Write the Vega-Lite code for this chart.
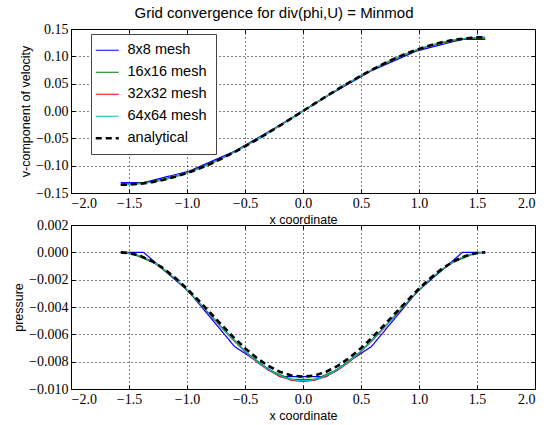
{
  "$schema": "https://vega.github.io/schema/vega-lite/v6.json",
  "padding": {"left": 12, "top": 5, "right": 5, "bottom": 5},
  "background": "white",
  "title": {"text": "Grid convergence for div(phi,U) = Minmod", "font": "Liberation Sans", "fontSize": 15, "fontWeight": "normal", "color": "black", "anchor": "middle", "offset": 1},
  "data": {"values": [
    {"s":"8x8 mesh","x":-1.5708,"v":-0.131,"p":0},
    {"s":"8x8 mesh","x":-1.3744,"v":-0.131,"p":0},
    {"s":"8x8 mesh","x":-0.9817,"v":-0.110,"p":-0.0029},
    {"s":"8x8 mesh","x":-0.5890,"v":-0.0735,"p":-0.0069},
    {"s":"8x8 mesh","x":-0.1963,"v":-0.0255,"p":-0.0091},
    {"s":"8x8 mesh","x":0.1963,"v":0.0255,"p":-0.0091},
    {"s":"8x8 mesh","x":0.5890,"v":0.0735,"p":-0.0069},
    {"s":"8x8 mesh","x":0.9817,"v":0.110,"p":-0.0029},
    {"s":"8x8 mesh","x":1.3744,"v":0.131,"p":0},
    {"s":"8x8 mesh","x":1.5708,"v":0.131,"p":0},

    {"s":"16x16 mesh","x":-1.5708,"v":-0.1334,"p":0},
    {"s":"16x16 mesh","x":-1.4726,"v":-0.1334,"p":-0.0001},
    {"s":"16x16 mesh","x":-1.2763,"v":-0.1282,"p":-0.0008},
    {"s":"16x16 mesh","x":-1.0799,"v":-0.1182,"p":-0.0021},
    {"s":"16x16 mesh","x":-0.8836,"v":-0.1036,"p":-0.0038},
    {"s":"16x16 mesh","x":-0.6872,"v":-0.0850,"p":-0.0056},
    {"s":"16x16 mesh","x":-0.4909,"v":-0.0632,"p":-0.0073},
    {"s":"16x16 mesh","x":-0.2945,"v":-0.0389,"p":-0.0086},
    {"s":"16x16 mesh","x":-0.0982,"v":-0.0131,"p":-0.0093},
    {"s":"16x16 mesh","x":0.0982,"v":0.0131,"p":-0.0093},
    {"s":"16x16 mesh","x":0.2945,"v":0.0389,"p":-0.0086},
    {"s":"16x16 mesh","x":0.4909,"v":0.0632,"p":-0.0073},
    {"s":"16x16 mesh","x":0.6872,"v":0.0850,"p":-0.0056},
    {"s":"16x16 mesh","x":0.8836,"v":0.1036,"p":-0.0038},
    {"s":"16x16 mesh","x":1.0799,"v":0.1182,"p":-0.0021},
    {"s":"16x16 mesh","x":1.2763,"v":0.1282,"p":-0.0008},
    {"s":"16x16 mesh","x":1.4726,"v":0.1334,"p":-0.0001},
    {"s":"16x16 mesh","x":1.5708,"v":0.1334,"p":0},

    {"s":"32x32 mesh","x":-1.5708,"v":-0.1345,"p":0},
    {"s":"32x32 mesh","x":-1.5,"v":-0.1342,"p":-0.00005},
    {"s":"32x32 mesh","x":-1.4,"v":-0.1325,"p":-0.00027},
    {"s":"32x32 mesh","x":-1.3,"v":-0.1296,"p":-0.00068},
    {"s":"32x32 mesh","x":-1.2,"v":-0.1254,"p":-0.00124},
    {"s":"32x32 mesh","x":-1.1,"v":-0.1199,"p":-0.00194},
    {"s":"32x32 mesh","x":-1.0,"v":-0.1132,"p":-0.00276},
    {"s":"32x32 mesh","x":-0.9,"v":-0.1054,"p":-0.00365},
    {"s":"32x32 mesh","x":-0.8,"v":-0.0965,"p":-0.00459},
    {"s":"32x32 mesh","x":-0.7,"v":-0.0867,"p":-0.00553},
    {"s":"32x32 mesh","x":-0.6,"v":-0.0759,"p":-0.00644},
    {"s":"32x32 mesh","x":-0.5,"v":-0.0645,"p":-0.00728},
    {"s":"32x32 mesh","x":-0.4,"v":-0.0524,"p":-0.00802},
    {"s":"32x32 mesh","x":-0.3,"v":-0.0398,"p":-0.00862},
    {"s":"32x32 mesh","x":-0.2,"v":-0.0267,"p":-0.00908},
    {"s":"32x32 mesh","x":-0.1,"v":-0.0134,"p":-0.00936},
    {"s":"32x32 mesh","x":0.0,"v":0.0,"p":-0.00945},
    {"s":"32x32 mesh","x":0.1,"v":0.0134,"p":-0.00936},
    {"s":"32x32 mesh","x":0.2,"v":0.0267,"p":-0.00908},
    {"s":"32x32 mesh","x":0.3,"v":0.0398,"p":-0.00862},
    {"s":"32x32 mesh","x":0.4,"v":0.0524,"p":-0.00802},
    {"s":"32x32 mesh","x":0.5,"v":0.0645,"p":-0.00728},
    {"s":"32x32 mesh","x":0.6,"v":0.0759,"p":-0.00644},
    {"s":"32x32 mesh","x":0.7,"v":0.0867,"p":-0.00553},
    {"s":"32x32 mesh","x":0.8,"v":0.0965,"p":-0.00459},
    {"s":"32x32 mesh","x":0.9,"v":0.1054,"p":-0.00365},
    {"s":"32x32 mesh","x":1.0,"v":0.1132,"p":-0.00276},
    {"s":"32x32 mesh","x":1.1,"v":0.1199,"p":-0.00194},
    {"s":"32x32 mesh","x":1.2,"v":0.1254,"p":-0.00124},
    {"s":"32x32 mesh","x":1.3,"v":0.1296,"p":-0.00068},
    {"s":"32x32 mesh","x":1.4,"v":0.1325,"p":-0.00027},
    {"s":"32x32 mesh","x":1.5,"v":0.1342,"p":-0.00005},
    {"s":"32x32 mesh","x":1.5708,"v":0.1345,"p":0},

    {"s":"64x64 mesh","x":-1.5708,"v":-0.135,"p":0},
    {"s":"64x64 mesh","x":-1.55,"v":-0.1350,"p":0},
    {"s":"64x64 mesh","x":-1.45,"v":-0.1340,"p":-0.00014},
    {"s":"64x64 mesh","x":-1.35,"v":-0.1317,"p":-0.00045},
    {"s":"64x64 mesh","x":-1.25,"v":-0.1281,"p":-0.00093},
    {"s":"64x64 mesh","x":-1.15,"v":-0.1232,"p":-0.00157},
    {"s":"64x64 mesh","x":-1.05,"v":-0.1171,"p":-0.00233},
    {"s":"64x64 mesh","x":-0.95,"v":-0.1098,"p":-0.00318},
    {"s":"64x64 mesh","x":-0.85,"v":-0.1014,"p":-0.00409},
    {"s":"64x64 mesh","x":-0.75,"v":-0.0920,"p":-0.00503},
    {"s":"64x64 mesh","x":-0.65,"v":-0.0817,"p":-0.00596},
    {"s":"64x64 mesh","x":-0.55,"v":-0.0706,"p":-0.00683},
    {"s":"64x64 mesh","x":-0.45,"v":-0.0587,"p":-0.00762},
    {"s":"64x64 mesh","x":-0.35,"v":-0.0463,"p":-0.00829},
    {"s":"64x64 mesh","x":-0.25,"v":-0.0334,"p":-0.00882},
    {"s":"64x64 mesh","x":-0.15,"v":-0.0202,"p":-0.00919},
    {"s":"64x64 mesh","x":-0.05,"v":-0.0068,"p":-0.00938},
    {"s":"64x64 mesh","x":0.05,"v":0.0068,"p":-0.00938},
    {"s":"64x64 mesh","x":0.15,"v":0.0202,"p":-0.00919},
    {"s":"64x64 mesh","x":0.25,"v":0.0334,"p":-0.00882},
    {"s":"64x64 mesh","x":0.35,"v":0.0463,"p":-0.00829},
    {"s":"64x64 mesh","x":0.45,"v":0.0587,"p":-0.00762},
    {"s":"64x64 mesh","x":0.55,"v":0.0706,"p":-0.00683},
    {"s":"64x64 mesh","x":0.65,"v":0.0817,"p":-0.00596},
    {"s":"64x64 mesh","x":0.75,"v":0.0920,"p":-0.00503},
    {"s":"64x64 mesh","x":0.85,"v":0.1014,"p":-0.00409},
    {"s":"64x64 mesh","x":0.95,"v":0.1098,"p":-0.00318},
    {"s":"64x64 mesh","x":1.05,"v":0.1171,"p":-0.00233},
    {"s":"64x64 mesh","x":1.15,"v":0.1232,"p":-0.00157},
    {"s":"64x64 mesh","x":1.25,"v":0.1281,"p":-0.00093},
    {"s":"64x64 mesh","x":1.35,"v":0.1317,"p":-0.00045},
    {"s":"64x64 mesh","x":1.45,"v":0.1340,"p":-0.00014},
    {"s":"64x64 mesh","x":1.55,"v":0.1350,"p":0},
    {"s":"64x64 mesh","x":1.5708,"v":0.135,"p":0},

    {"s":"analytical","x":-1.5708,"v":-0.135,"p":0},
    {"s":"analytical","x":-1.5,"v":-0.1347,"p":-0.00005},
    {"s":"analytical","x":-1.4,"v":-0.1330,"p":-0.00026},
    {"s":"analytical","x":-1.3,"v":-0.1301,"p":-0.00065},
    {"s":"analytical","x":-1.2,"v":-0.1258,"p":-0.00119},
    {"s":"analytical","x":-1.1,"v":-0.1203,"p":-0.00187},
    {"s":"analytical","x":-1.0,"v":-0.1136,"p":-0.00266},
    {"s":"analytical","x":-0.9,"v":-0.1058,"p":-0.00352},
    {"s":"analytical","x":-0.8,"v":-0.0969,"p":-0.00442},
    {"s":"analytical","x":-0.7,"v":-0.0870,"p":-0.00532},
    {"s":"analytical","x":-0.6,"v":-0.0762,"p":-0.00620},
    {"s":"analytical","x":-0.5,"v":-0.0647,"p":-0.00701},
    {"s":"analytical","x":-0.4,"v":-0.0526,"p":-0.00772},
    {"s":"analytical","x":-0.3,"v":-0.0399,"p":-0.00831},
    {"s":"analytical","x":-0.2,"v":-0.0268,"p":-0.00874},
    {"s":"analytical","x":-0.1,"v":-0.0135,"p":-0.00901},
    {"s":"analytical","x":0.0,"v":0.0,"p":-0.0091},
    {"s":"analytical","x":0.1,"v":0.0135,"p":-0.00901},
    {"s":"analytical","x":0.2,"v":0.0268,"p":-0.00874},
    {"s":"analytical","x":0.3,"v":0.0399,"p":-0.00831},
    {"s":"analytical","x":0.4,"v":0.0526,"p":-0.00772},
    {"s":"analytical","x":0.5,"v":0.0647,"p":-0.00701},
    {"s":"analytical","x":0.6,"v":0.0762,"p":-0.00620},
    {"s":"analytical","x":0.7,"v":0.0870,"p":-0.00532},
    {"s":"analytical","x":0.8,"v":0.0969,"p":-0.00442},
    {"s":"analytical","x":0.9,"v":0.1058,"p":-0.00352},
    {"s":"analytical","x":1.0,"v":0.1136,"p":-0.00266},
    {"s":"analytical","x":1.1,"v":0.1203,"p":-0.00187},
    {"s":"analytical","x":1.2,"v":0.1258,"p":-0.00119},
    {"s":"analytical","x":1.3,"v":0.1301,"p":-0.00065},
    {"s":"analytical","x":1.4,"v":0.1330,"p":-0.00026},
    {"s":"analytical","x":1.5,"v":0.1347,"p":-0.00005},
    {"s":"analytical","x":1.5708,"v":0.135,"p":0}
  ]},
  "bounds": "flush",
  "spacing": 32,
  "vconcat": [
    {
      "width": 464, "height": 164,
      "layer": [
        {
          "mark": {"type": "line", "clip": true},
          "encoding": {
            "x": {"field": "x", "type": "quantitative", "scale": {"domain": [-2, 2], "nice": false, "zero": false},
                  "axis": {"title": "x coordinate", "format": ".1f", "values": [-2,-1.5,-1,-0.5,0,0.5,1,1.5,2]}},
            "y": {"field": "v", "type": "quantitative", "scale": {"domain": [-0.15, 0.15], "nice": false},
                  "axis": {"title": "v-component of velocity", "format": ".2f", "values": [-0.15,-0.1,-0.05,0,0.05,0.1,0.15]}},
            "color": {"field": "s", "type": "nominal", "title": null,
                      "scale": {"domain": ["8x8 mesh","16x16 mesh","32x32 mesh","64x64 mesh","analytical"], "range": ["#0000ff","#008000","#ff0000","#00bfbf","#000000"]},
                      "legend": {"encode": {
                        "symbols": {"update": {"strokeWidth": {"signal": "datum.value === 'analytical' ? 2.6 : 1.2"}}}}}},
            "strokeDash": {"field": "s", "type": "nominal", "title": null,
                      "scale": {"domain": ["8x8 mesh","16x16 mesh","32x32 mesh","64x64 mesh","analytical"], "range": [[1,0],[1,0],[1,0],[1,0],[6,4]]},
                      "legend": {"encode": {
                        "symbols": {"update": {"strokeWidth": {"signal": "datum.value === 'analytical' ? 2.6 : 1.2"}}}}}},
            "strokeWidth": {"condition": {"test": "datum.s === 'analytical'", "value": 2.6}, "value": 1.2}
          }
        },
        {
          "mark": {"type": "point", "opacity": 0},
          "encoding": {
            "x": {"field": "x", "type": "quantitative", "axis": {"orient": "top", "labels": false, "title": null, "grid": false, "values": [-2,-1.5,-1,-0.5,0,0.5,1,1.5,2]}},
            "y": {"field": "v", "type": "quantitative", "axis": {"orient": "right", "labels": false, "title": null, "grid": false, "values": [-0.15,-0.1,-0.05,0,0.05,0.1,0.15]}}
          }
        }
      ],
      "resolve": {"axis": {"x": "independent", "y": "independent"}}
    },
    {
      "width": 464, "height": 164,
      "layer": [
        {
          "mark": {"type": "line", "clip": true},
          "encoding": {
            "x": {"field": "x", "type": "quantitative", "scale": {"domain": [-2, 2], "nice": false, "zero": false},
                  "axis": {"title": "x coordinate", "format": ".1f", "values": [-2,-1.5,-1,-0.5,0,0.5,1,1.5,2]}},
            "y": {"field": "p", "type": "quantitative", "scale": {"domain": [-0.010, 0.002], "nice": false, "zero": false},
                  "axis": {"title": "pressure", "format": ".3f", "values": [-0.01,-0.008,-0.006,-0.004,-0.002,0,0.002]}},
            "color": {"field": "s", "type": "nominal", "title": null,
                      "scale": {"domain": ["8x8 mesh","16x16 mesh","32x32 mesh","64x64 mesh","analytical"], "range": ["#0000ff","#008000","#ff0000","#00bfbf","#000000"]}},
            "strokeDash": {"field": "s", "type": "nominal", "title": null,
                      "scale": {"domain": ["8x8 mesh","16x16 mesh","32x32 mesh","64x64 mesh","analytical"], "range": [[1,0],[1,0],[1,0],[1,0],[6,4]]}},
            "strokeWidth": {"condition": {"test": "datum.s === 'analytical'", "value": 2.6}, "value": 1.2}
          }
        },
        {
          "mark": {"type": "point", "opacity": 0},
          "encoding": {
            "x": {"field": "x", "type": "quantitative", "axis": {"orient": "top", "labels": false, "title": null, "grid": false, "values": [-2,-1.5,-1,-0.5,0,0.5,1,1.5,2]}},
            "y": {"field": "p", "type": "quantitative", "axis": {"orient": "right", "labels": false, "title": null, "grid": false, "values": [-0.01,-0.008,-0.006,-0.004,-0.002,0,0.002]}}
          }
        }
      ],
      "resolve": {"axis": {"x": "independent", "y": "independent"}}
    }
  ],
  "config": {
    "view": {"stroke": "black", "strokeWidth": 1},
    "axis": {
      "labelFont": "Liberation Serif, serif", "labelFontSize": 14, "labelColor": "black",
      "labelExpr": "replace(datum.label, '-', '\u2212')",
      "titleFont": "Liberation Sans", "titleFontSize": 12.5, "titleFontWeight": "normal", "titleColor": "black",
      "domain": false, "ticks": true, "tickColor": "black", "tickSize": -4, "tickWidth": 1,
      "grid": true, "gridColor": "black", "gridDash": [1, 3], "gridOpacity": 1, "gridWidth": 1,
      "labelPadding": 7, "titlePadding": 3
    },
    "legend": {
      "orient": "none", "legendX": 20, "legendY": 5,
      "labelFont": "Liberation Sans", "labelFontSize": 14.5, "labelColor": "black",
      "symbolType": "stroke", "symbolSize": 529, "labelOffset": 13,
      "strokeColor": "#444", "fillColor": "white", "padding": 9, "rowPadding": 7, "cornerRadius": 0
    }
  }
}
